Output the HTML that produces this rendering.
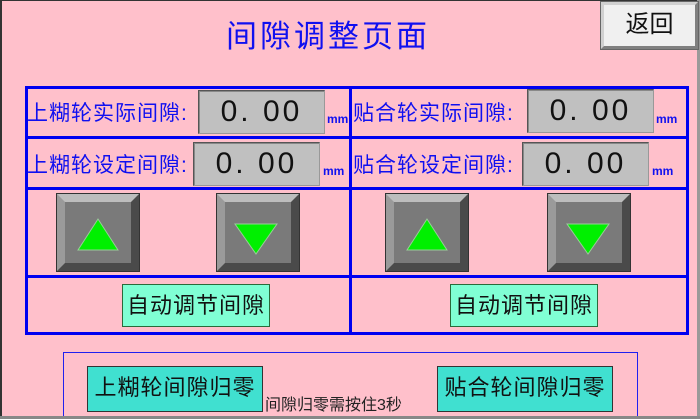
<!DOCTYPE html>
<html><head><meta charset="utf-8"><style>
*{margin:0;padding:0;box-sizing:border-box}
body{width:700px;height:419px;background:#FFC0CB;position:relative;overflow:hidden;font-family:"Liberation Sans","Noto Sans CJK SC",sans-serif}
.a{position:absolute}
.lbl{color:#1010F0;font-size:21px;white-space:nowrap;font-family:"Liberation Sans","Noto Sans CJK SC",sans-serif;letter-spacing:1px}
.val{background:#C0C0C0;border:1px solid #555;border-right-color:#999;border-bottom-color:#999;box-shadow:inset 1px 1px 0 #888;font-family:"Liberation Sans",sans-serif;font-size:30px;color:#111;text-align:center;line-height:42px;letter-spacing:3px}
.mm{color:#1010F0;font-size:12px;font-weight:bold}
.hl{background:#0000F0}
.btn{border-style:solid;border-width:8px;border-color:#bdbdbd #4a4a4a #4a4a4a #9a9a9a;background:#7a7a7a;outline:1px solid #333}
.auto{background:#80FFD4;border:1px solid #2a6a3a;font-size:22px;color:#111;text-align:center;letter-spacing:1px}
.zero{background:#40E0D0;border:1px solid #333;font-size:22px;color:#111;text-align:center;letter-spacing:1px}
</style></head><body>
<div class="a" style="left:0;top:0;width:700px;height:1px;background:#333"></div>
<div class="a" style="left:0;top:0;width:2px;height:419px;background:#333"></div>
<div class="a" style="left:697px;top:0;width:3px;height:419px;background:#999"></div>

<div class="a" style="left:226px;top:11px;font-size:31px;color:#1010F0;letter-spacing:3px;white-space:nowrap">间隙调整页面</div>

<div class="a" style="left:601px;top:2px;width:97px;height:47px;background:#F0F0F0;border:3px solid;border-color:#d0d0d0 #808080 #808080 #d0d0d0;outline:1px solid #666;font-size:24px;text-align:center;line-height:40px;color:#111">返回</div>

<div class="a hl" style="left:25px;top:86px;width:664px;height:3px"></div>
<div class="a hl" style="left:25px;top:136px;width:664px;height:3px"></div>
<div class="a hl" style="left:25px;top:187px;width:664px;height:3px"></div>
<div class="a hl" style="left:25px;top:275px;width:664px;height:3px"></div>
<div class="a hl" style="left:25px;top:332px;width:664px;height:3px"></div>
<div class="a hl" style="left:25px;top:86px;width:3px;height:249px"></div>
<div class="a hl" style="left:686px;top:86px;width:3px;height:249px"></div>
<div class="a hl" style="left:349px;top:86px;width:3px;height:249px"></div>

<div class="a lbl" style="left:27px;top:97px">上糊轮实际间隙:</div>
<div class="a val" style="left:198px;top:90px;width:127px;height:44px">0. 00</div>
<div class="a mm" style="left:327px;top:112px">mm</div>
<div class="a lbl" style="left:27px;top:149px">上糊轮设定间隙:</div>
<div class="a val" style="left:193px;top:142px;width:127px;height:44px">0. 00</div>
<div class="a mm" style="left:323px;top:164px">mm</div>

<div class="a lbl" style="left:353px;top:97px">贴合轮实际间隙:</div>
<div class="a val" style="left:527px;top:89px;width:127px;height:44px">0. 00</div>
<div class="a mm" style="left:656px;top:112px">mm</div>
<div class="a lbl" style="left:353px;top:149px">贴合轮设定间隙:</div>
<div class="a val" style="left:522px;top:142px;width:127px;height:44px">0. 00</div>
<div class="a mm" style="left:652px;top:164px">mm</div>

<div class="a btn" style="left:57px;top:194px;width:82px;height:77px"></div>
<div class="a btn" style="left:217px;top:194px;width:82px;height:77px"></div>
<div class="a btn" style="left:386px;top:194px;width:82px;height:77px"></div>
<div class="a btn" style="left:548px;top:194px;width:82px;height:77px"></div>
<svg class="a" style="left:0;top:0" width="700" height="419">
<polygon points="98,219 118,250 78,250" fill="#00F000" stroke="#9c9" stroke-width="1"/>
<polygon points="235,224 277,224 256,254" fill="#00F000" stroke="#9c9" stroke-width="1"/>
<polygon points="427,219 447,250 407,250" fill="#00F000" stroke="#9c9" stroke-width="1"/>
<polygon points="567,224 609,224 588,254" fill="#00F000" stroke="#9c9" stroke-width="1"/>
</svg>

<div class="a auto" style="left:122px;top:284px;width:148px;height:43px;line-height:41px">自动调节间隙</div>
<div class="a auto" style="left:450px;top:284px;width:148px;height:43px;line-height:41px">自动调节间隙</div>

<div class="a" style="left:63px;top:352px;width:575px;height:66px;border:1px solid #2020F0"></div>
<div class="a" style="left:0;top:416px;width:700px;height:3px;background:#888"></div>
<div class="a zero" style="left:87px;top:366px;width:176px;height:46px;line-height:42px">上糊轮间隙归零</div>
<div class="a zero" style="left:437px;top:366px;width:176px;height:46px;line-height:42px">贴合轮间隙归零</div>
<div class="a" style="left:265px;top:391px;font-size:16px;color:#222;white-space:nowrap">间隙归零需按住3秒</div>
</body></html>
